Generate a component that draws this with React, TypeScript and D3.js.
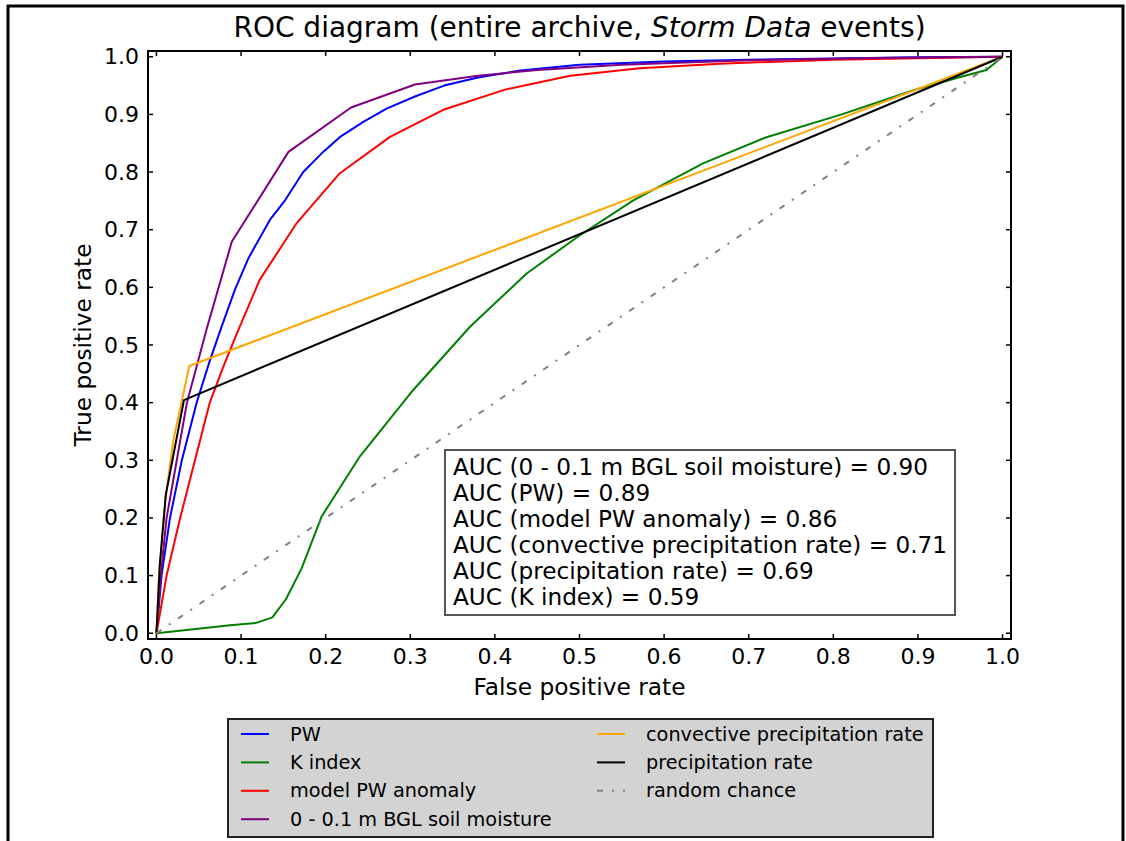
import React from "react";
import * as d3 from "d3";

// ---- Data ----
const pwFpr = [0, 0.006, 0.016, 0.03, 0.0475, 0.062, 0.077, 0.093, 0.1085, 0.134, 0.152, 0.1735, 0.195, 0.217, 0.2445, 0.272, 0.3055, 0.34, 0.38, 0.43, 0.5, 0.6, 0.7, 0.8, 0.9, 1.0];
const pwTpr = [0, 0.1, 0.2, 0.3, 0.4, 0.468, 0.532, 0.597, 0.65, 0.717, 0.751, 0.8, 0.832, 0.861, 0.887, 0.91, 0.931, 0.95, 0.964, 0.976, 0.986, 0.992, 0.995, 0.997, 0.999, 1.0];

const kFpr = [0, 0.087, 0.118, 0.137, 0.153, 0.1716, 0.195, 0.2405, 0.3035, 0.3706, 0.4375, 0.5, 0.5636, 0.646, 0.72, 0.81, 0.8946, 0.95, 0.981, 1.0];
const kTpr = [0, 0.014, 0.018, 0.0276, 0.059, 0.1125, 0.202, 0.307, 0.422, 0.5316, 0.624, 0.69, 0.751, 0.815, 0.86, 0.9, 0.942, 0.965, 0.977, 1.0];

const modelFpr = [0, 0.012, 0.028, 0.0455, 0.063, 0.08, 0.0967, 0.122, 0.166, 0.216, 0.276, 0.339, 0.412, 0.489, 0.571, 0.666, 0.8, 1.0];
const modelTpr = [0, 0.1, 0.2, 0.3, 0.4, 0.466, 0.526, 0.613, 0.712, 0.797, 0.861, 0.908, 0.943, 0.967, 0.98, 0.988, 0.995, 1.0];

const soilFpr = [0, 0.005, 0.012, 0.024, 0.036, 0.059, 0.089, 0.156, 0.23, 0.3055, 0.38, 0.45, 0.55, 0.7, 0.85, 1.0];
const soilTpr = [0, 0.1, 0.2, 0.3, 0.4, 0.526, 0.679, 0.835, 0.912, 0.952, 0.967, 0.977, 0.986, 0.994, 0.998, 1.0];

const convFpr = [0, 0.003, 0.011, 0.02, 0.0388, 1.0];
const convTpr = [0, 0.1, 0.237, 0.335, 0.4635, 1.0];

const precipFpr = [0, 0.002, 0.004, 0.011, 0.0325, 1.0];
const precipTpr = [0, 0.06, 0.12, 0.24, 0.4045, 1.0];

const randomFpr = [0, 1];
const randomTpr = [0, 1];

const tickValues = [0, 0.1, 0.2, 0.3, 0.4, 0.5, 0.6, 0.7, 0.8, 0.9, 1.0];

const aucLines = [
  "AUC (0 - 0.1 m BGL soil moisture) = 0.90",
  "AUC (PW) = 0.89",
  "AUC (model PW anomaly) = 0.86",
  "AUC (convective precipitation rate) = 0.71",
  "AUC (precipitation rate) = 0.69",
  "AUC (K index) = 0.59",
];

type Series = { name: string; x: number[]; y: number[]; color: string; dash?: string };

const series: Series[] = [
  { name: "PW", x: pwFpr, y: pwTpr, color: "#0000ff" },
  { name: "K index", x: kFpr, y: kTpr, color: "#008000" },
  { name: "model PW anomaly", x: modelFpr, y: modelTpr, color: "#ff0000" },
  { name: "0 - 0.1 m BGL soil moisture", x: soilFpr, y: soilTpr, color: "#800080" },
  { name: "convective precipitation rate", x: convFpr, y: convTpr, color: "#ffa500" },
  { name: "precipitation rate", x: precipFpr, y: precipTpr, color: "#000000" },
  { name: "random chance", x: randomFpr, y: randomTpr, color: "#808080", dash: "6,9,2,9" },
];

const FONT = "DejaVu Sans";

export default function App() {
  const W = 1126;
  const H = 841;
  const L = 148, R = 1011, T = 51, B = 639;
  const x = d3.scaleLinear().domain([-0.01, 1.01]).range([L, R]);
  const y = d3.scaleLinear().domain([-0.01, 1.01]).range([B, T]);

  const line = d3
    .line<[number, number]>()
    .x((d) => x(d[0]))
    .y((d) => y(d[1]));

  const tickLen = 5;

  // legend layout
  const legX = 228, legY = 719, legW = 705, legH = 118;
  const rowY = (i: number) => 734 + i * 28.4;
  const col1 = series.slice(0, 4);
  const col2 = series.slice(4);

  return (
    <svg
      width={W}
      height={H}
      style={{ position: "absolute", left: 0, top: 0, background: "#fff" }}
      fontFamily={FONT}
    >
      <rect x={0} y={0} width={W} height={H} fill="#fff" />
      {/* outer figure frame */}
      <rect x={8} y={6} width={1115} height={H + 20} fill="none" stroke="#000" strokeWidth={3} />

      {/* title */}
      <text x={(L + R) / 2} y={37} textAnchor="middle" fontSize={28} fill="#000">
        ROC diagram (entire archive, <tspan fontStyle="italic">Storm Data</tspan> events)
      </text>

      <defs>
        <clipPath id="plotClip">
          <rect x={L} y={T} width={R - L} height={B - T} />
        </clipPath>
      </defs>

      {/* series */}
      <g clipPath="url(#plotClip)">
        {series.map((s) => (
          <path
            key={s.name}
            d={line(s.x.map((v, i) => [v, s.y[i]] as [number, number])) || ""}
            fill="none"
            stroke={s.color}
            strokeWidth={2}
            strokeDasharray={s.dash}
            strokeLinejoin="round"
          />
        ))}
      </g>

      {/* ticks (inward, all sides) */}
      <g stroke="#000" strokeWidth={1.5}>
        {tickValues.map((t) => (
          <g key={"t" + t}>
            <line x1={x(t)} x2={x(t)} y1={B} y2={B - tickLen} />
            <line x1={x(t)} x2={x(t)} y1={T} y2={T + tickLen} />
            <line x1={L} x2={L + tickLen} y1={y(t)} y2={y(t)} />
            <line x1={R} x2={R - tickLen} y1={y(t)} y2={y(t)} />
          </g>
        ))}
      </g>

      {/* spines */}
      <rect x={L} y={T} width={R - L} height={B - T} fill="none" stroke="#000" strokeWidth={2} />

      {/* tick labels */}
      <g fontSize={22} fill="#000">
        {tickValues.map((t) => (
          <text key={"xl" + t} x={x(t)} y={664} textAnchor="middle">
            {d3.format(".1f")(t)}
          </text>
        ))}
        {tickValues.map((t) => (
          <text key={"yl" + t} x={139} y={y(t)} textAnchor="end" dominantBaseline="central">
            {d3.format(".1f")(t)}
          </text>
        ))}
      </g>

      {/* axis labels */}
      <text x={(L + R) / 2} y={695} textAnchor="middle" fontSize={23.3} fill="#000">
        False positive rate
      </text>
      <text
        transform={`translate(82, ${(T + B) / 2}) rotate(-90)`}
        textAnchor="middle"
        dominantBaseline="central"
        fontSize={23.3}
        fill="#000"
      >
        True positive rate
      </text>

      {/* AUC box */}
      <rect x={445} y={450} width={510} height={165} fill="#fff" stroke="#555" strokeWidth={2} />
      <g fontSize={23.2} fill="#000">
        {aucLines.map((s, i) => (
          <text key={s} x={453} y={475 + i * 26}>
            {s}
          </text>
        ))}
      </g>

      {/* legend */}
      <rect x={legX} y={legY} width={legW} height={legH} fill="#d3d3d3" stroke="#222" strokeWidth={2} />
      {col1.map((s, i) => (
        <g key={s.name}>
          <line x1={241} x2={269} y1={rowY(i)} y2={rowY(i)} stroke={s.color} strokeWidth={2} strokeDasharray={s.dash} />
          <text x={290} y={rowY(i)} dominantBaseline="central" fontSize={19.3} fill="#000">
            {s.name}
          </text>
        </g>
      ))}
      {col2.map((s, i) => (
        <g key={s.name}>
          <line x1={597} x2={625} y1={rowY(i)} y2={rowY(i)} stroke={s.color} strokeWidth={2} strokeDasharray={s.dash} />
          <text x={646} y={rowY(i)} dominantBaseline="central" fontSize={19.3} fill="#000">
            {s.name}
          </text>
        </g>
      ))}
    </svg>
  );
}
